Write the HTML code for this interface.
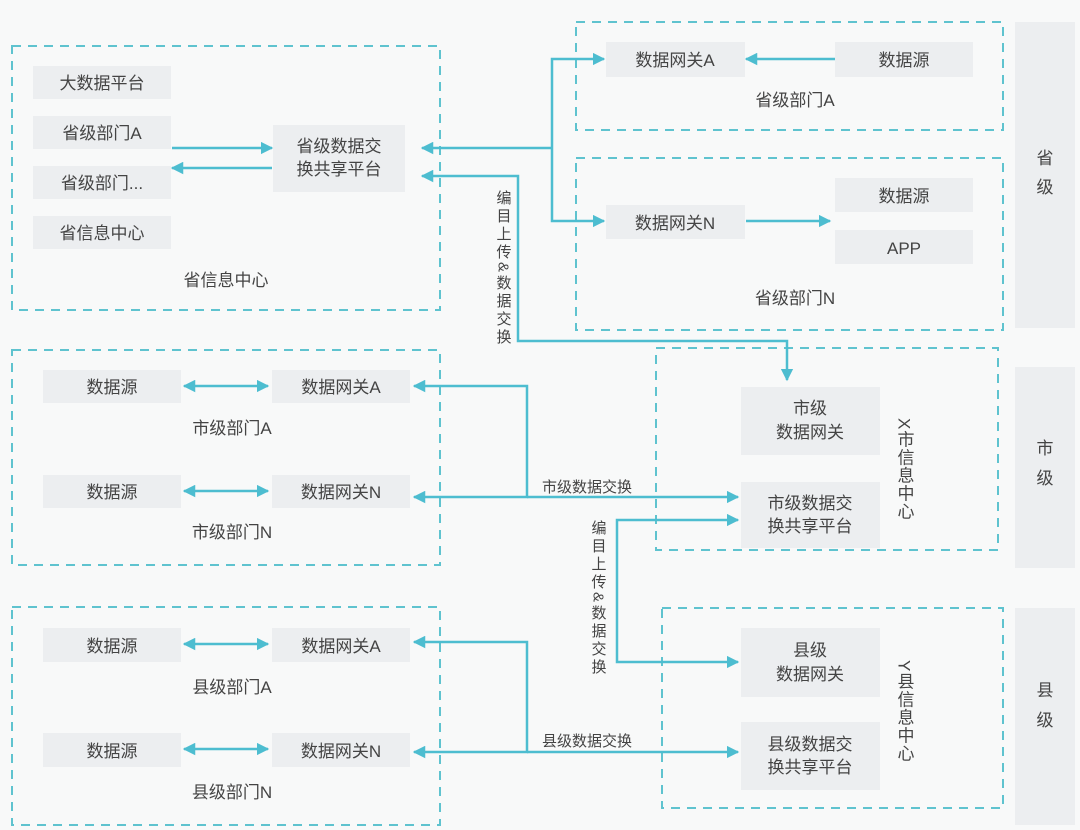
<!DOCTYPE html>
<html><head><meta charset="utf-8"><style>
html,body{margin:0;padding:0;background:#f8f9f9;}
svg{display:block;}
text{font-family:"Liberation Sans","Noto Sans CJK SC",sans-serif;font-size:17px;fill:#444;}
.b{fill:#eceef0;}
.d{fill:none;stroke:#5fc3cf;stroke-width:2;stroke-dasharray:9 7;}
.l{fill:none;stroke:#4dbdd0;stroke-width:2.5;}
.v{writing-mode:vertical-rl;font-size:15px;letter-spacing:3px;}
</style></head><body>
<svg width="1080" height="830" viewBox="0 0 1080 830">
<defs>
<marker id="a" viewBox="0 0 10 10" refX="9" refY="5" markerWidth="5" markerHeight="5" orient="auto-start-reverse"><path d="M0,0L10,5L0,10z" fill="#4dbdd0"/></marker>
</defs>
<rect class="b" x="1015" y="22" width="60" height="306"/>
<rect class="b" x="1015" y="367" width="60" height="201"/>
<rect class="b" x="1015" y="608" width="60" height="217"/>
<text x="1045" y="164" text-anchor="middle">省</text><text x="1045" y="193" text-anchor="middle">级</text>
<text x="1045" y="454" text-anchor="middle">市</text><text x="1045" y="484" text-anchor="middle">级</text>
<text x="1045" y="696" text-anchor="middle">县</text><text x="1045" y="726" text-anchor="middle">级</text>

<rect class="d" x="12" y="46" width="428" height="264"/>
<rect class="d" x="576" y="22" width="427" height="108"/>
<rect class="d" x="576" y="158" width="427" height="172"/>
<rect class="d" x="12" y="350" width="428" height="215"/>
<rect class="d" x="656" y="348" width="342" height="202"/>
<rect class="d" x="12" y="607" width="428" height="218"/>
<rect class="d" x="662" y="608" width="341" height="200"/>

<rect class="b" x="33" y="66" width="138" height="33"/><text x="102" y="89" text-anchor="middle">大数据平台</text>
<rect class="b" x="33" y="116" width="138" height="33"/><text x="102" y="139" text-anchor="middle">省级部门A</text>
<rect class="b" x="33" y="166" width="138" height="33"/><text x="102" y="189" text-anchor="middle">省级部门...</text>
<rect class="b" x="33" y="216" width="138" height="33"/><text x="102" y="239" text-anchor="middle">省信息中心</text>
<text x="226" y="286" text-anchor="middle">省信息中心</text>
<rect class="b" x="273" y="125" width="132" height="67"/>
<text x="339" y="152" text-anchor="middle">省级数据交</text><text x="339" y="175" text-anchor="middle">换共享平台</text>
<line class="l" x1="172" y1="148" x2="272" y2="148" marker-end="url(#a)"/>
<line class="l" x1="272" y1="168" x2="172" y2="168" marker-end="url(#a)"/>

<rect class="b" x="606" y="42" width="139" height="35"/><text x="675" y="66" text-anchor="middle">数据网关A</text>
<rect class="b" x="835" y="42" width="138" height="35"/><text x="904" y="66" text-anchor="middle">数据源</text>
<line class="l" x1="835" y1="59" x2="746" y2="59" marker-end="url(#a)"/>
<text x="795" y="106" text-anchor="middle">省级部门A</text>
<rect class="b" x="606" y="205" width="139" height="34"/><text x="675" y="229" text-anchor="middle">数据网关N</text>
<rect class="b" x="835" y="178" width="138" height="34"/><text x="904" y="202" text-anchor="middle">数据源</text>
<rect class="b" x="835" y="230" width="138" height="34"/><text x="904" y="254" text-anchor="middle">APP</text>
<line class="l" x1="746" y1="221" x2="830" y2="221" marker-end="url(#a)"/>
<text x="795" y="304" text-anchor="middle">省级部门N</text>

<polyline class="l" points="604,59 552,59 552,221 604,221" marker-start="url(#a)" marker-end="url(#a)"/>
<line class="l" x1="552" y1="148" x2="422" y2="148" marker-end="url(#a)"/>
<polyline class="l" points="422,176 518,176 518,341 787,341 787,380" marker-start="url(#a)" marker-end="url(#a)"/>
<text x="503" y="190" class="v">编目上传&amp;数据交换</text>

<rect class="b" x="43" y="370" width="138" height="33"/><text x="112" y="393" text-anchor="middle">数据源</text>
<rect class="b" x="272" y="370" width="138" height="33"/><text x="341" y="393" text-anchor="middle">数据网关A</text>
<line class="l" x1="184" y1="386" x2="268" y2="386" marker-start="url(#a)" marker-end="url(#a)"/>
<text x="232" y="434" text-anchor="middle">市级部门A</text>
<rect class="b" x="43" y="475" width="138" height="33"/><text x="112" y="498" text-anchor="middle">数据源</text>
<rect class="b" x="272" y="475" width="138" height="33"/><text x="341" y="498" text-anchor="middle">数据网关N</text>
<line class="l" x1="184" y1="491" x2="268" y2="491" marker-start="url(#a)" marker-end="url(#a)"/>
<text x="232" y="538" text-anchor="middle">市级部门N</text>
<rect class="b" x="741" y="387" width="139" height="68"/>
<text x="810" y="414" text-anchor="middle">市级</text><text x="810" y="438" text-anchor="middle">数据网关</text>
<rect class="b" x="741" y="482" width="139" height="66"/>
<text x="810" y="509" text-anchor="middle">市级数据交</text><text x="810" y="532" text-anchor="middle">换共享平台</text>
<text x="904" y="418" style="writing-mode:vertical-rl;letter-spacing:1px">X市信息中心</text>
<polyline class="l" points="414,386 527,386 527,497 414,497" marker-start="url(#a)" marker-end="url(#a)"/>
<line class="l" x1="527" y1="497" x2="738" y2="497" marker-end="url(#a)"/>
<text x="587" y="492" text-anchor="middle" style="font-size:15px">市级数据交换</text>
<polyline class="l" points="738,520 617,520 617,662 738,662" marker-start="url(#a)" marker-end="url(#a)"/>
<text x="598" y="520" class="v">编目上传&amp;数据交换</text>

<rect class="b" x="43" y="628" width="138" height="34"/><text x="112" y="652" text-anchor="middle">数据源</text>
<rect class="b" x="272" y="628" width="138" height="34"/><text x="341" y="652" text-anchor="middle">数据网关A</text>
<line class="l" x1="184" y1="644" x2="268" y2="644" marker-start="url(#a)" marker-end="url(#a)"/>
<text x="232" y="693" text-anchor="middle">县级部门A</text>
<rect class="b" x="43" y="733" width="138" height="34"/><text x="112" y="757" text-anchor="middle">数据源</text>
<rect class="b" x="272" y="733" width="138" height="34"/><text x="341" y="757" text-anchor="middle">数据网关N</text>
<line class="l" x1="184" y1="749" x2="268" y2="749" marker-start="url(#a)" marker-end="url(#a)"/>
<text x="232" y="798" text-anchor="middle">县级部门N</text>
<rect class="b" x="741" y="628" width="139" height="69"/>
<text x="810" y="656" text-anchor="middle">县级</text><text x="810" y="680" text-anchor="middle">数据网关</text>
<rect class="b" x="741" y="722" width="139" height="68"/>
<text x="810" y="750" text-anchor="middle">县级数据交</text><text x="810" y="773" text-anchor="middle">换共享平台</text>
<text x="904" y="660" style="writing-mode:vertical-rl;letter-spacing:1px">Y县信息中心</text>
<polyline class="l" points="414,642 527,642 527,752 414,752" marker-start="url(#a)" marker-end="url(#a)"/>
<line class="l" x1="527" y1="752" x2="738" y2="752" marker-end="url(#a)"/>
<text x="587" y="746" text-anchor="middle" style="font-size:15px">县级数据交换</text>
</svg>
</body></html>
